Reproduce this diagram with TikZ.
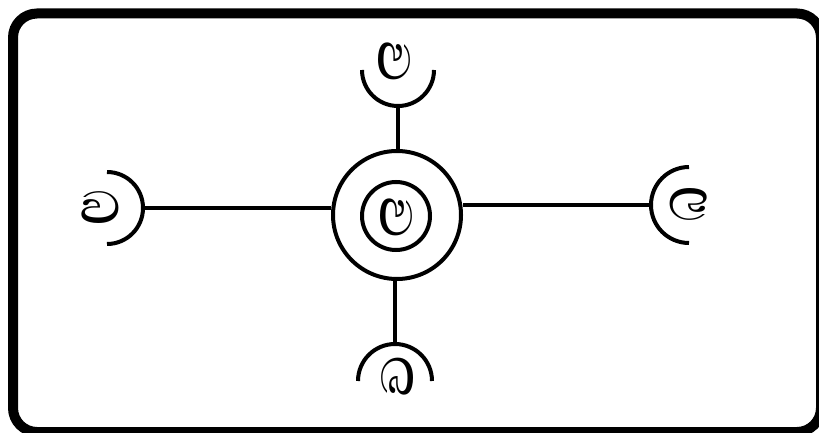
\documentclass[tikz,border=0pt]{standalone}
\usepackage{fontspec}
\newfontfamily\sifont[Script=Sinhala]{Abhaya Libre}
\newcommand\wideva{\scalebox{1.3}[1]{ව}}
\begin{document}
\begin{tikzpicture}[x=1pt,y=-1pt,line width=4pt,
  lbl/.style={font=\sifont\bfseries\fontsize{58}{58}\selectfont,inner sep=0pt},
  ring/.style={draw,circle,inner sep=0pt,line width=4pt}]
\clip (0,0) rectangle (819,433);
\useasboundingbox (0,0) rectangle (819,433);
\fill[white] (0,0) rectangle (819,433);
\draw[line width=10pt,rounded corners=24pt] (13,13.5) rectangle (821,432);
% hub
\node[ring,minimum size=128pt] (outer) at (397,215) {};
\node[ring,minimum size=68pt] (inner) at (396,216) {};
\node[lbl,rotate=-90] (lc) at (396,218) {\wideva};
% socket centres and apexes
\coordinate (tc) at (398,70);  \coordinate (tapex) at (398,106);
\coordinate (bc) at (395,381); \coordinate (bapex) at (395,344);
\coordinate (lcn) at (107,208); \coordinate (lapex) at (143,208);
\coordinate (rc) at (689,205); \coordinate (rapex) at (651,205);
% sockets
\draw (tc) ++(180:36) arc[start angle=180,end angle=0,radius=36];
\draw (bc) ++(180:37) arc[start angle=180,end angle=360,radius=37];
\draw (lcn) ++(-90:36) arc[start angle=-90,end angle=90,radius=36];
\draw (rc) ++(90:38) arc[start angle=90,end angle=270,radius=38];
% connectors
\draw (tapex) -- (tapex |- outer.north);
\draw (bapex) -- (bapex |- outer.south);
\draw (lapex) -- (lapex -| outer.west);
\draw (rapex) -- (rapex -| outer.east);
% labels
\node[lbl,rotate=-90] (lt) at (394,62) {\wideva};
\node[lbl] (ll) at (101,208) {\wideva};
\node[lbl,rotate=90] (lb) at (398,376) {\wideva};
\node[lbl,rotate=180] (lr) at (688,204) {\wideva};
\end{tikzpicture}
\end{document}
